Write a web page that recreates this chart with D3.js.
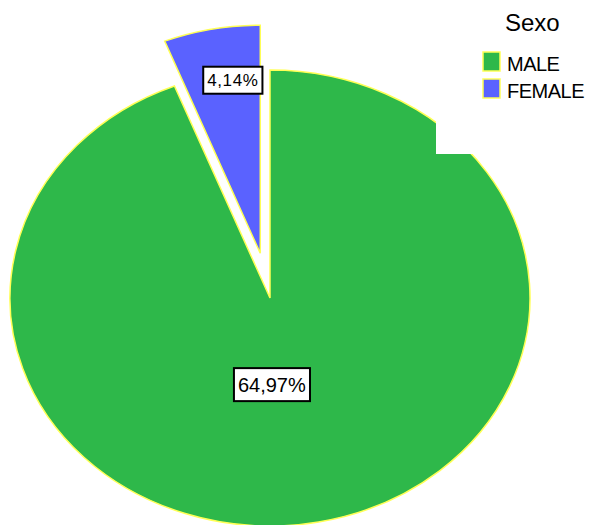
<!DOCTYPE html>
<html>
<head>
<meta charset="utf-8">
<script src="https://cdn.jsdelivr.net/npm/d3@7"></script>
<style>
  body { margin: 0; background: #fff; }
  svg { display: block; font-family: "Liberation Sans", Arial, sans-serif; }
</style>
</head>
<body>
<div id="chart"></div>
<script>
// data
const categories = ["MALE", "FEMALE"];
const percents = [64.97, 4.14];
const labels = ["64,97%", "4,14%"];
const legendTitle = "Sexo";

const width = 595, height = 525;
const colors = { MALE: "#2eb84a", FEMALE: "#5a62ff" };

let svg = d3.select("#chart").append("svg")
    .attr("width", width)
    .attr("height", height);

let rx = 260, ry = 228;
let cx = 270, cy = 298;

let pie = d3.pie().sort(null).value(d => d.value);
let arcs = pie(categories.map((c, i) => ({ cat: c, value: percents[i], label: labels[i] })));

let arc = d3.arc().innerRadius(0).outerRadius(rx);

// pie drawn in a squashed group, so it comes out as an ellipse
let g = svg.append("g")
    .attr("transform", `translate(${cx},${cy}) scale(1,${ry / rx})`);

function offset(d) {
    // pull the small slice out
    if (d.data.cat !== "FEMALE") return [0, 0];
    let mid = (d.startAngle + d.endAngle) / 2;
    return [Math.sin(mid) * rx * 0.2, -Math.cos(mid) * rx * 0.2];
}

g.selectAll("path")
    .data(arcs).enter()
    .append("path")
    .attr("d", arc)
    .attr("transform", d => `translate(${offset(d)})`)
    .attr("fill", d => colors[d.data.cat])
    .attr("stroke", "#ffff55")
    .attr("stroke-width", 1.5)
    .attr("vector-effect", "non-scaling-stroke");

// white legend background sits over the pie
svg.append("rect")
    .attr("x", 436).attr("y", 0)
    .attr("width", width - 436).attr("height", 154)
    .attr("fill", "#fff");

// value labels
let labelR = { MALE: 0.38, FEMALE: 0.766 };
let fontSize = { MALE: 20, FEMALE: 17 };
arcs.forEach(d => {
    let mid = (d.startAngle + d.endAngle) / 2;
    if (d.data.cat === "MALE") mid = Math.PI * 0.994;
    else mid += 0.05;
    let o = offset(d);
    let x = cx + o[0] + Math.sin(mid) * rx * labelR[d.data.cat];
    let y = cy + (o[1] - Math.cos(mid) * rx * labelR[d.data.cat]) * ry / rx;
    let lg = svg.append("g").attr("transform", `translate(${x},${y})`);
    let t = lg.append("text")
        .attr("text-anchor", "middle")
        .attr("dy", "0.36em")
        .attr("font-size", fontSize[d.data.cat])
        .attr("fill", "#000")
        .attr("letter-spacing", d.data.cat === "FEMALE" ? 0.6 : 0)
        .text(d.data.label);
    let bb = t.node().getBBox();
    let padX = 4, h = d.data.cat === "MALE" ? 33 : 27;
    lg.insert("rect", "text")
        .attr("x", bb.x - padX).attr("y", -h / 2)
        .attr("width", bb.width + padX * 2).attr("height", h)
        .attr("fill", "#fff")
        .attr("stroke", "#000")
        .attr("stroke-width", 2);
});

// legend
svg.append("text")
    .attr("x", 505).attr("y", 31)
    .attr("font-size", 24)
    .text(legendTitle);

let leg = svg.append("g").selectAll("g")
    .data(categories).enter()
    .append("g")
    .attr("transform", (d, i) => `translate(483,${52 + i * 27})`);

leg.append("rect")
    .attr("width", 17).attr("height", 19)
    .attr("fill", d => colors[d])
    .attr("stroke", "#ffff55")
    .attr("stroke-width", 1.5);

leg.append("text")
    .attr("x", 24).attr("y", 19)
    .attr("font-size", 20)
    .attr("letter-spacing", -0.5)
    .text(d => d);
</script>
</body>
</html>
